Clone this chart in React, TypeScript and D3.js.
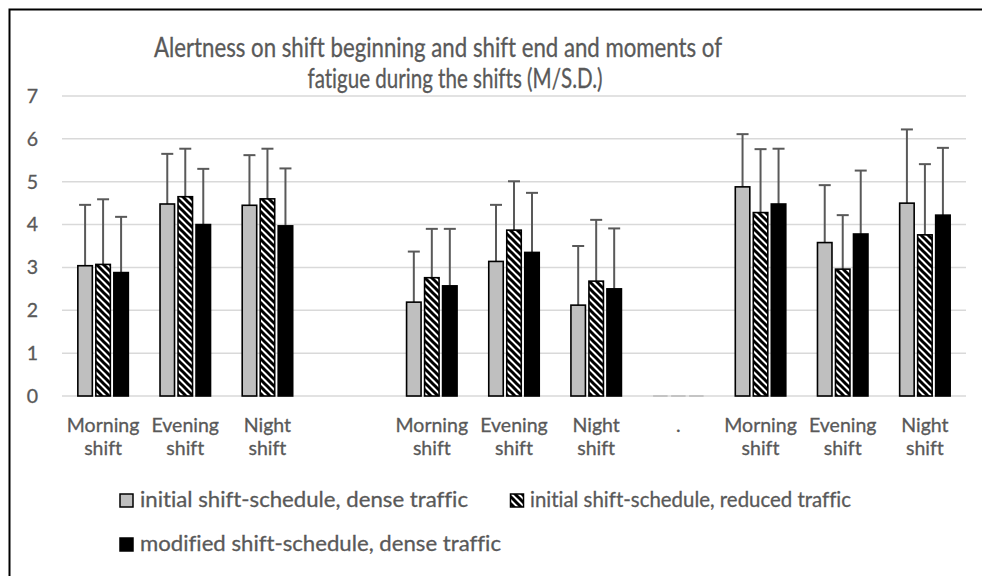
import React from "react";
import * as d3 from "d3";

const categories = ["Morning shift", "Evening shift", "Night shift", "", "Morning shift", "Evening shift", "Night shift", ".", "Morning shift", "Evening shift", "Night shift"];
const seriesNames = ["initial shift-schedule, dense traffic", "initial shift-schedule, reduced traffic", "modified shift-schedule, dense traffic"];
const denseMean = [3.04, 4.48, 4.45, null, 2.19, 3.14, 2.12, 0, 4.88, 3.58, 4.5];
const reducedMean = [3.07, 4.65, 4.6, null, 2.76, 3.87, 2.68, 0, 4.28, 2.96, 3.76];
const modifiedMean = [2.88, 4.0, 3.97, null, 2.57, 3.35, 2.5, 0, 4.48, 3.78, 4.22];
const denseSD = [1.42, 1.17, 1.17, null, 1.18, 1.32, 1.38, 0, 1.23, 1.34, 1.72];
const reducedSD = [1.52, 1.12, 1.17, null, 1.14, 1.14, 1.43, 0, 1.48, 1.26, 1.65];
const modifiedSD = [1.3, 1.3, 1.34, null, 1.33, 1.39, 1.41, 0, 1.29, 1.48, 1.57];
const yTicks = [0, 1, 2, 3, 4, 5, 6, 7];
const titleLines = ["Alertness on shift beginning and shift end and moments of", "fatigue during the shifts (M/S.D.)"];

const W = 982;
const H = 576;
const FONT = "Lato, 'Open Sans', sans-serif";
const TXT = "#595959";

export default function App() {
  const x = d3.scaleBand<number>().domain(categories.map((_, i) => i)).range([62, 966]).paddingInner(0).paddingOuter(0);
  const y = d3.scaleLinear().domain([0, 7]).range([396, 96]);
  const barW = 14.5;
  const barStep = 18;
  const sub = d3.scaleBand<number>().domain([0, 1, 2]).range([-barStep * 1.5, barStep * 1.5]);
  const means = [denseMean, reducedMean, modifiedMean];
  const sds = [denseSD, reducedSD, modifiedSD];
  const fills = ["#bfbfbf", "url(#hatch)", "#000000"];
  const titles = [
    { x: 438, y: 57, w: 568 },
    { x: 455, y: 88, w: 295 },
  ];
  const legend = [
    { s: 0, x: 120, y: 494, tx: 140, ty: 507, w: 328 },
    { s: 1, x: 510.5, y: 494, tx: 530, ty: 507, w: 321 },
    { s: 2, x: 120, y: 538, tx: 140, ty: 551, w: 361 },
  ];
  const textStroke = { stroke: TXT, strokeWidth: 0.3 };

  return (
    <svg width={W} height={H} style={{ position: "absolute", left: 0, top: 0, background: "#fff", fontVariantLigatures: "none" }} fontFamily={FONT}>
      <defs>
        <pattern id="hatch" patternUnits="userSpaceOnUse" width="7" height="7">
          <rect width="7" height="7" fill="#fff" />
          <path d="M-2,5 L2,9 M0,0 L7,7 M5,-2 L9,2" stroke="#000" strokeWidth="3" />
        </pattern>
      </defs>
      <rect x={0} y={0} width={W} height={H} fill="#fff" />
      <rect x={9.5} y={9.5} width={1200} height={1200} fill="none" stroke="#000" strokeWidth={2} />
      {titleLines.map((t, i) => (
        <text key={i} x={titles[i].x} y={titles[i].y} textAnchor="middle" fontSize={26} fill={TXT} {...textStroke} textLength={titles[i].w} lengthAdjust="spacingAndGlyphs">{t}</text>
      ))}
      {yTicks.map((t) => (
        <g key={t}>
          <line x1={62} x2={966} y1={y(t)} y2={y(t)} stroke="#d9d9d9" strokeWidth={1.5} />
          <text x={38} y={y(t)} dy="0.35em" textAnchor="end" fontSize={19.5} fill={TXT} {...textStroke}>{t}</text>
        </g>
      ))}
      {categories.map((c, i) => {
        const cx = (x(i) as number) + x.bandwidth() / 2;
        const parts = c.split(" ");
        return (
          <text key={"c" + i} x={cx} y={432} textAnchor="middle" fontSize={19.5} fill={TXT} {...textStroke}>
            {parts.map((p, j) => (
              <tspan key={j} x={cx} dy={j === 0 ? 0 : 23}>{p}</tspan>
            ))}
          </text>
        );
      })}
      {means.map((m, s) =>
        m.map((v, i) => {
          if (v === null) return null;
          const cx = (x(i) as number) + x.bandwidth() / 2;
          const bx = cx + (sub(s) as number) + (sub.bandwidth() - barW) / 2;
          if (v === 0) {
            return <line key={s + "-" + i} x1={bx} x2={bx + barW} y1={y(0)} y2={y(0)} stroke="#c4c4c4" strokeWidth={2} />;
          }
          const sd = sds[s][i] as number;
          const ex = bx + barW / 2;
          return (
            <g key={s + "-" + i}>
              <line x1={ex} x2={ex} y1={y(v)} y2={y(v + sd)} stroke="#595959" strokeWidth={2} />
              <line x1={ex - 6} x2={ex + 6} y1={y(v + sd)} y2={y(v + sd)} stroke="#595959" strokeWidth={2} />
              <rect x={bx} y={y(v)} width={barW} height={y(0) - y(v)} fill={fills[s]} stroke="#000" strokeWidth={1.6} />
            </g>
          );
        })
      )}
      {legend.map((l) => (
        <g key={"l" + l.s}>
          <rect x={l.x} y={l.y} width={13} height={13} fill={fills[l.s]} stroke="#000" strokeWidth={1.5} />
          <text x={l.tx} y={l.ty} fontSize={21.5} fill={TXT} {...textStroke} textLength={l.w} lengthAdjust="spacingAndGlyphs">{seriesNames[l.s]}</text>
        </g>
      ))}
    </svg>
  );
}
